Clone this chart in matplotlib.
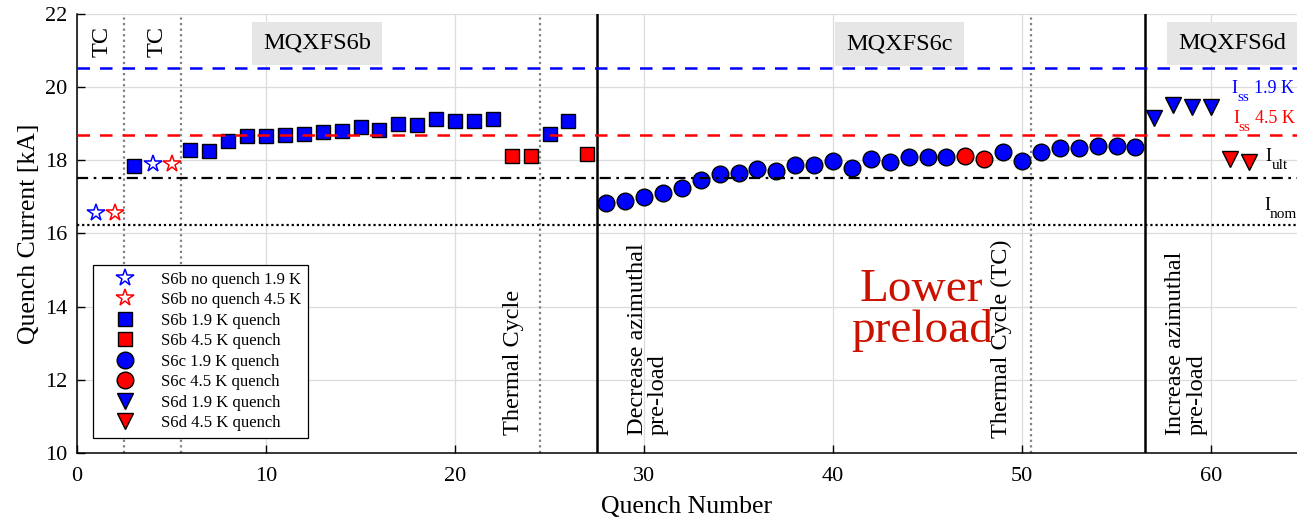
import matplotlib
matplotlib.use("Agg")
import matplotlib.pyplot as plt

plt.rcParams["font.family"] = ["Liberation Serif", "DejaVu Serif"]

# ---- data ----
s6b_nq19_x = [1, 4]
s6b_nq19_y = [16.57, 17.90]
s6b_nq45_x = [2, 5]
s6b_nq45_y = [16.57, 17.90]

s6b_19_x = [3, 6, 7, 8, 9, 10, 11, 12, 13, 14, 15, 16, 17, 18, 19, 20, 21, 22, 25, 26]
s6b_19_y = [17.85, 18.28, 18.26, 18.54, 18.67, 18.67, 18.69, 18.73, 18.77, 18.80,
            18.91, 18.83, 19.00, 18.97, 19.12, 19.08, 19.08, 19.12, 18.72, 19.08]
s6b_45_x = [23, 24, 27]
s6b_45_y = [18.12, 18.12, 18.18]

s6c_19_x = [28, 29, 30, 31, 32, 33, 34, 35, 36, 37, 38, 39, 40, 41, 42, 43, 44, 45, 46,
            49, 50, 51, 52, 53, 54, 55, 56]
s6c_19_y = [16.83, 16.89, 17.00, 17.11, 17.24, 17.46, 17.62, 17.65, 17.76, 17.72,
            17.86, 17.86, 17.98, 17.78, 18.04, 17.96, 18.08, 18.08, 18.08,
            18.22, 17.99, 18.22, 18.33, 18.33, 18.40, 18.40, 18.36]
s6c_45_x = [47, 48]
s6c_45_y = [18.12, 18.04]

s6d_19_x = [57, 58, 59, 60]
s6d_19_y = [19.15, 19.52, 19.47, 19.45]
s6d_45_x = [61, 62]
s6d_45_y = [18.03, 17.95]

# reference levels [kA]
i_ss_19 = 20.52
i_ss_45 = 18.69
i_ult = 17.51
i_nom = 16.23

tc_lines = [2.5, 5.5, 24.5, 50.5]
change_lines = [27.5, 56.5]

fig = plt.figure(figsize=(12.97, 5.22), dpi=100)
ax = fig.add_axes([0.0594, 0.1322, 0.9406, 0.841])

blue = "#0000ff"
red = "#ff0000"

# vertical markers
for x in tc_lines:
    ax.axvline(x, color="#808080", ls=(0, (1, 1.5)), lw=1.6, zorder=2)
for x in change_lines:
    ax.axvline(x, color="black", ls="-", lw=1.8, zorder=2)

# horizontal reference lines
ax.axhline(i_ss_19, color=blue, ls=(0, (5, 4)), lw=1.8, zorder=4)
ax.axhline(i_ss_45, color=red, ls=(0, (5, 4)), lw=1.8, zorder=4)
ax.axhline(i_ult, color="black", ls=(0, (5, 2.5, 1.2, 2.5)), lw=1.6, zorder=4)
ax.axhline(i_nom, color="black", ls=(0, (1, 1.3)), lw=1.6, zorder=4)

# measurements
ax.plot(s6b_nq19_x, s6b_nq19_y, ls="none", marker="*", ms=13, mfc="white", mec=blue,
        mew=1.1, label="S6b no quench 1.9 K", zorder=3)
ax.plot(s6b_nq45_x, s6b_nq45_y, ls="none", marker="*", ms=13, mfc="white", mec=red,
        mew=1.1, label="S6b no quench 4.5 K", zorder=3)
ax.plot(s6b_19_x, s6b_19_y, ls="none", marker="s", ms=9.5, mfc=blue, mec="black",
        mew=1.0, label="S6b 1.9 K quench", zorder=3)
ax.plot(s6b_45_x, s6b_45_y, ls="none", marker="s", ms=9.5, mfc=red, mec="black",
        mew=1.0, label="S6b 4.5 K quench", zorder=3)
ax.plot(s6c_19_x, s6c_19_y, ls="none", marker="o", ms=12, mfc=blue, mec="black",
        mew=1.0, label="S6c 1.9 K quench", zorder=3)
ax.plot(s6c_45_x, s6c_45_y, ls="none", marker="o", ms=12, mfc=red, mec="black",
        mew=1.0, label="S6c 4.5 K quench", zorder=3)
ax.plot(s6d_19_x, s6d_19_y, ls="none", marker="v", ms=12, mfc=blue, mec="black",
        mew=1.0, label="S6d 1.9 K quench", zorder=3)
ax.plot(s6d_45_x, s6d_45_y, ls="none", marker="v", ms=12, mfc=red, mec="black",
        mew=1.0, label="S6d 4.5 K quench", zorder=3)

# magnet labels
box = dict(facecolor="#e6e6e6", edgecolor="none", pad=8)
ax.text(12.7, 21.2, "MQXFS6b", fontsize=17.5, ha="center", va="center", bbox=box, zorder=5)
ax.text(43.5, 21.18, "MQXFS6c", fontsize=17.5, ha="center", va="center", bbox=box, zorder=5)
ax.text(61.1, 21.2, "MQXFS6d", fontsize=17.5, ha="center", va="center", bbox=box, zorder=5)

# rotated annotations
ax.text(1.3, 21.25, "TC", fontsize=17.5, rotation=90, ha="center", va="center")
ax.text(4.25, 21.25, "TC", fontsize=17.5, rotation=90, ha="center", va="center")
ax.text(23.1, 10.5, "Thermal Cycle", fontsize=17.5, rotation=90, ha="center", va="bottom")
ax.text(30.2, 10.5, "Decrease azimuthal\npre-load", fontsize=17.5, rotation=90,
        ha="center", va="bottom", multialignment="left", linespacing=1.0)
ax.text(48.9, 10.4, "Thermal Cycle (TC)", fontsize=17.5, rotation=90, ha="center", va="bottom")
ax.text(58.7, 10.5, "Increase azimuthal\npre-load", fontsize=17.5, rotation=90,
        ha="center", va="bottom", multialignment="left", linespacing=1.0)

ax.text(44.7, 13.9, "Lower\npreload", fontsize=34, color="#cc1100", ha="center",
        va="center", linespacing=0.95, zorder=6)


def level_label(x, y, sub, rest, color, x_sub, x_rest):
    """'I' with a big, low subscript, like the original figure"""
    ax.text(x, y, "I", fontsize=13, color=color, va="baseline", ha="left")
    ax.text(x_sub, y - 0.21, sub, fontsize=11, color=color, va="baseline", ha="left")
    if rest:
        ax.text(x_rest, y, rest, fontsize=13, color=color, va="baseline", ha="left")


level_label(61.1, 19.83, "ss", "1.9 K", blue, 61.38, 62.26)
level_label(61.18, 19.02, "ss", "4.5 K", red, 61.45, 62.33)
level_label(62.9, 17.97, "ult", "", "black", 63.22, 0)
level_label(62.85, 16.64, "nom", "", "black", 63.12, 0)

ax.set_xlim(0, 64.55)
ax.set_ylim(10, 22)
ax.set_xticks([0, 10, 20, 30, 40, 50, 60])
ax.set_yticks([10, 12, 14, 16, 18, 20, 22])
ax.tick_params(direction="in", labelsize=16, length=6, width=1, top=False, right=False)
ax.tick_params(axis="x", pad=10)
ax.tick_params(axis="y", pad=7)
ax.grid(True, color="#dcdcdc", lw=0.9)
ax.set_axisbelow(True)
for side in ["top", "right"]:
    ax.spines[side].set_visible(False)
ax.spines["left"].set_linewidth(1.1)
ax.spines["bottom"].set_linewidth(1.1)

ax.set_xlabel("Quench Number", fontsize=18.5, labelpad=7)
ax.set_ylabel("Quench Current [kA]", fontsize=18.5, labelpad=4)

leg = ax.legend(loc="upper left", bbox_to_anchor=(0.013, 0.428), fontsize=12,
                fancybox=False, framealpha=1, edgecolor="black", borderpad=0.4,
                labelspacing=0.27, handlelength=3.0, handletextpad=0.7, borderaxespad=0)
leg.get_frame().set_linewidth(0.9)

fig.savefig("out.png", dpi=100)
